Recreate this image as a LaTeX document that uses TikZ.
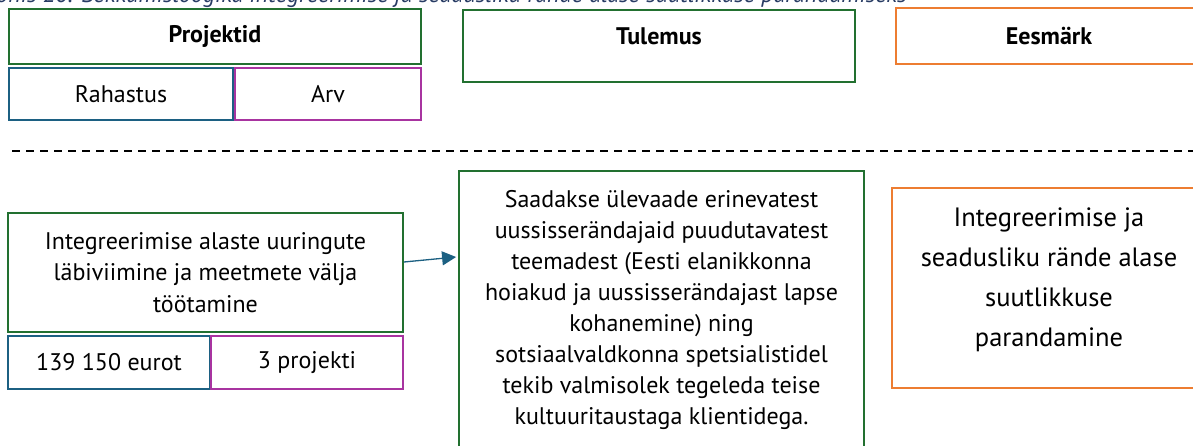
\documentclass[tikz,border=0pt]{standalone}
\usepackage{fontspec}
\setmainfont{PT Sans}
\usetikzlibrary{arrows.meta}
\definecolor{cgreen}{RGB}{34,112,48}
\definecolor{cblue}{RGB}{28,96,130}
\definecolor{cmag}{RGB}{168,52,160}
\definecolor{corange}{RGB}{237,125,49}
\definecolor{ccap}{RGB}{40,60,100}
\begin{document}
\begin{tikzpicture}[x=1pt,y=-1pt,
  box/.style={draw, rectangle, line width=1.8pt, inner sep=0pt, align=center,
    font=\fontsize{24}{31.5}\selectfont},
  gbox/.style={box, draw=cgreen},
  bbox/.style={box, draw=cblue},
  mbox/.style={box, draw=cmag},
  obox/.style={box, draw=corange},
  title/.style={font=\fontsize{24}{28}\selectfont\bfseries},
  conn/.style={draw=cblue, line width=1.3pt, -{Triangle[length=14pt,width=14pt]}}]
\useasboundingbox (0,0) rectangle (1193,446);
\fill[white] (0,0) rectangle (1193,446);

\node[anchor=base east, inner sep=0pt, text=ccap,
  font=\fontsize{24}{28}\selectfont\itshape] (cap) at (907,3)
  {Joonis 20. Sekkumisloogika integreerimise ja seadusliku rände alase suutlikkuse parandamiseks};

% top row
\node[gbox, title, minimum width=412pt, minimum height=55pt] (proj) at (215,36.5) {Projektid};
\node[bbox, minimum width=224pt, minimum height=52pt] (rah) at (121,94) {Rahastus};
\node[mbox, minimum width=186pt, minimum height=52pt] (arv) at (328,94) {Arv};
\node[gbox, minimum width=392pt, minimum height=72pt,
  label={[anchor=center, yshift=-27pt, title]north:Tulemus}] (tul) at (659,46) {};
\node[obox, title, minimum width=306pt, minimum height=56pt] (ees) at (1049,36) {Eesmärk};

% dashed separator
\coordinate (dl) at (12,151);
\coordinate (dr) at (1200,151);
\draw[line width=1.4pt, dash pattern=on 8pt off 6pt] (dl) -- (dr);

% bottom row
\node[gbox, minimum width=395pt, minimum height=119pt] (act) at (205.5,272.5)
  {Integreerimise alaste uuringute\\läbiviimine ja meetmete välja\\töötamine};
\node[bbox, minimum width=202pt, minimum height=53pt] (eur) at (109,362.5) {139 150 eurot};
\node[mbox, minimum width=192pt, minimum height=53pt] (npr) at (307,362.5) {3 projekti};

\node[gbox, minimum width=405pt, minimum height=290pt,
  label={[anchor=center, yshift=6pt, align=center, font=\fontsize{24}{31}\selectfont]center:%
  Saadakse ülevaade erinevatest\\uussisserändajaid puudutavatest\\teemadest (Eesti elanikkonna\\hoiakud ja uussisserändajast lapse\\kohanemine) ning\\sotsiaalvaldkonna spetsialistidel\\tekib valmisolek tegeleda teise\\kultuuritaustaga klientidega.}] (res) at (661.5,316) {};

\node[obox, minimum width=314pt, minimum height=200pt,
  label={[anchor=center, yshift=8pt, align=center, font=\fontsize{26.5}{40}\selectfont]center:%
  Integreerimise ja\\seadusliku rände alase\\suutlikkuse\\parandamine}] (goal) at (1049,288) {};

\draw[conn] ([yshift=10.5pt]act.east) -- ([yshift=59pt,xshift=-2pt]res.west);
\end{tikzpicture}
\end{document}
